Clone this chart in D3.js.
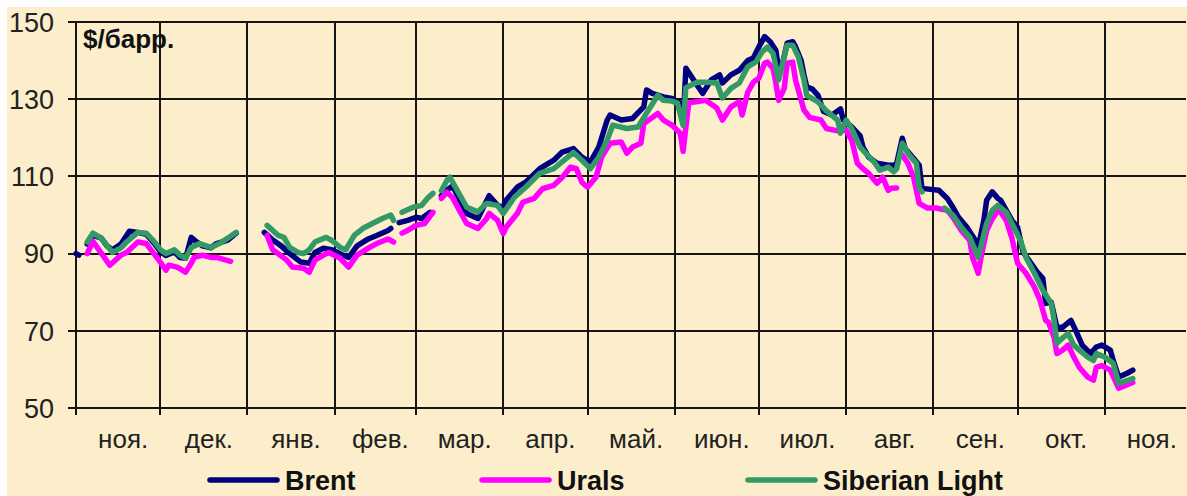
<!DOCTYPE html>
<html><head><meta charset="utf-8">
<script src="https://cdn.jsdelivr.net/npm/d3@7"></script>
<style>
html,body{margin:0;padding:0;background:#fff;}
svg{display:block;}
</style></head>
<body><svg id="c" width="1187" height="496"></svg>
<script>
const monthLabels = ["ноя.","дек.","янв.","фев.","мар.","апр.","май.","июн.","июл.","авг.","сен.","окт.","ноя."];
const yTicks = [50,70,90,110,130,150];
const unitLabel = "$/барр.";
const seriesNames = ["Brent","Urals","Siberian Light"];
const seriesColors = ["#000080","#FF00FF","#339966"];

const brent = [["2007-11-01",90],["2007-11-02",89.6],["2007-11-03",null],
["2007-11-05",92.5],["2007-11-07",94.8],["2007-11-10",94],["2007-11-12",92],["2007-11-14",91],["2007-11-17",92.5],["2007-11-20",95.8],["2007-11-23",95.5],["2007-11-26",95],["2007-11-29",92.5],["2007-12-01",90.5],["2007-12-03",89.5],["2007-12-06",90.5],["2007-12-08",89],["2007-12-10",88.8],["2007-12-12",94.2],["2007-12-14",93],["2007-12-16",92],["2007-12-19",91.5],["2007-12-21",92.6],["2007-12-25",93.5],["2007-12-28",95.3],["2008-01-01",null],
["2008-01-07",95.5],["2008-01-10",93.5],["2008-01-13",92],["2008-01-16",90],["2008-01-20",87.8],["2008-01-23",87.5],["2008-01-25",90.3],["2008-01-28",91.4],["2008-01-31",91],["2008-02-04",89.6],["2008-02-06",89],["2008-02-09",92],["2008-02-13",93.8],["2008-02-16",94.7],["2008-02-20",96],["2008-02-21",96.5],["2008-02-22",null],["2008-02-24",98],["2008-02-27",98.6],["2008-03-01",99.4],["2008-03-03",99.1],["2008-03-06",100.7],["2008-03-08",null],["2008-03-10",105],["2008-03-12",106.4],["2008-03-14",107.5],["2008-03-19",100.4],["2008-03-23",99.1],["2008-03-27",105],["2008-03-30",102.5],["2008-04-01",102],["2008-04-02",103.8],["2008-04-06",107.2],["2008-04-09",108.5],["2008-04-14",112],["2008-04-19",114.2],["2008-04-22",116.3],["2008-04-26",117.2],["2008-04-29",115],["2008-05-02",113.7],["2008-05-05",117.6],["2008-05-08",124.6],["2008-05-09",125.9],["2008-05-13",124.6],["2008-05-17",125],["2008-05-21",128],["2008-05-22",132.4],["2008-05-24",131.5],["2008-05-28",130.6],["2008-05-31",130.2],["2008-06-03",129],["2008-06-04",124],["2008-06-05",138],["2008-06-09",133.6],["2008-06-11",131.5],["2008-06-14",135],["2008-06-17",136.3],["2008-06-18",134.2],["2008-06-21",136.3],["2008-06-24",137.5],["2008-06-27",140],["2008-06-29",140.7],["2008-07-01",143.6],["2008-07-03",146.2],["2008-07-05",144.9],["2008-07-07",142.7],["2008-07-08",137.5],["2008-07-09",138],["2008-07-11",144.5],["2008-07-13",144.9],["2008-07-14",143.6],["2008-07-16",140],["2008-07-17",136.3],["2008-07-18",133.2],["2008-07-20",132.6],["2008-07-22",131],["2008-07-24",126.8],["2008-07-27",125.9],["2008-07-30",127.5],["2008-07-31",124.6],["2008-08-03",122.8],["2008-08-06",120.5],["2008-08-07",117.6],["2008-08-09",115],["2008-08-12",113.4],["2008-08-16",112.9],["2008-08-18",112.9],["2008-08-19",113.4],["2008-08-21",119.9],["2008-08-22",117.2],["2008-08-25",114.7],["2008-08-27",112.9],["2008-08-28",106.9],["2008-09-03",106.4],["2008-09-06",104.3],["2008-09-08",102],["2008-09-10",99.4],["2008-09-13",96.8],["2008-09-16",93.4],["2008-09-17",91.6],["2008-09-19",98.6],["2008-09-20",103.8],["2008-09-22",106],["2008-09-24",104.3],["2008-09-25",103.8],["2008-09-29",98.6],["2008-10-01",96.8],["2008-10-03",90.3],["2008-10-05",88.3],["2008-10-08",85.2],["2008-10-10",83.6],["2008-10-11",77.1],["2008-10-13",77.4],["2008-10-15",70.9],["2008-10-17",70.9],["2008-10-20",72.7],["2008-10-22",69.6],["2008-10-24",66.3],["2008-10-27",64.1],["2008-10-29",65.8],["2008-10-31",66.3],["2008-11-03",65],["2008-11-04",62.4],["2008-11-06",58],["2008-11-09",59],["2008-11-11",59.8]];

const urals = [["2007-11-05",90],["2007-11-07",93.2],["2007-11-13",87],["2007-11-17",89.6],["2007-11-19",90.3],["2007-11-23",93],["2007-11-26",92.6],["2007-11-30",88.8],["2007-12-03",85.7],["2007-12-04",87],["2007-12-07",86.5],["2007-12-10",85.2],["2007-12-12",87.5],["2007-12-13",89],["2007-12-16",89.6],["2007-12-19",89],["2007-12-21",89],["2007-12-26",88],["2008-01-01",null],["2008-01-08",94.7],["2008-01-10",91],["2008-01-15",88.3],["2008-01-17",86.5],["2008-01-21",86.2],["2008-01-23",85.2],["2008-01-25",88.3],["2008-01-28",89.6],["2008-01-30",90.3],["2008-02-03",88.8],["2008-02-06",86.5],["2008-02-09",89.6],["2008-02-13",91.4],["2008-02-16",92.6],["2008-02-20",93.8],["2008-02-22",93],["2008-02-23",null],["2008-02-25",95.3],["2008-02-27",96],["2008-03-01",97.3],["2008-03-04",97.8],["2008-03-07",100.7],["2008-03-08",null],["2008-03-10",104.3],["2008-03-12",105.9],["2008-03-14",104.5],["2008-03-17",100.4],["2008-03-19",97.8],["2008-03-23",96.5],["2008-03-26",99],["2008-03-27",100.4],["2008-03-30",98.6],["2008-04-01",95.2],["2008-04-02",96.8],["2008-04-06",100.4],["2008-04-08",103.3],["2008-04-12",104.3],["2008-04-15",106.8],["2008-04-19",107.7],["2008-04-22",109.8],["2008-04-25",112.4],["2008-04-27",112],["2008-04-29",108.5],["2008-05-01",107.2],["2008-05-04",109.8],["2008-05-06",115],["2008-05-09",118.6],["2008-05-13",118.9],["2008-05-15",116],["2008-05-17",117.6],["2008-05-20",118.6],["2008-05-21",123.7],["2008-05-26",126.3],["2008-05-28",124.6],["2008-05-31",123.3],["2008-06-03",121.2],["2008-06-04",116.5],["2008-06-06",129],["2008-06-08",129.3],["2008-06-12",129.7],["2008-06-16",127.7],["2008-06-18",124.6],["2008-06-21",128],["2008-06-24",129.3],["2008-06-25",125.9],["2008-06-27",131.8],["2008-06-29",134.4],["2008-07-01",135.5],["2008-07-03",139.3],["2008-07-04",139.6],["2008-07-06",138],["2008-07-07",134.2],["2008-07-08",129.7],["2008-07-10",132.8],["2008-07-11",139.3],["2008-07-13",139.6],["2008-07-14",135],["2008-07-17",127.2],["2008-07-19",125.3],["2008-07-23",124.6],["2008-07-25",122.4],["2008-07-29",121.8],["2008-08-01",122],["2008-08-03",119.4],["2008-08-05",113.4],["2008-08-07",112],["2008-08-09",110.8],["2008-08-12",108.2],["2008-08-14",109.8],["2008-08-16",106.4],["2008-08-17",106.9],["2008-08-19",107],["2008-08-20",null],["2008-08-21",115.5],["2008-08-23",113.4],["2008-08-25",109.8],["2008-08-26",106.4],["2008-08-27",103],["2008-08-30",101.8],["2008-09-02",101.8],["2008-09-06",101.2],["2008-09-08",99.4],["2008-09-11",96],["2008-09-14",93.4],["2008-09-15",89],["2008-09-17",84.9],["2008-09-18",89],["2008-09-20",96],["2008-09-22",99],["2008-09-24",101.2],["2008-09-25",100.7],["2008-09-27",98.6],["2008-09-29",94],["2008-10-01",87.5],["2008-10-04",84.9],["2008-10-07",81.3],["2008-10-09",77.9],["2008-10-11",72.7],["2008-10-12",72.2],["2008-10-14",68.3],["2008-10-15",64.1],["2008-10-17",65],["2008-10-19",66.3],["2008-10-21",63.2],["2008-10-23",60.5],["2008-10-26",58],["2008-10-28",57.2],["2008-10-29",60.5],["2008-10-31",61],["2008-11-03",59.8],["2008-11-06",55.1],["2008-11-11",56.6]];

const siberian = [["2007-11-05",93],["2007-11-07",95.3],["2007-11-10",94],["2007-11-14",90.3],["2007-11-17",91.5],["2007-11-19",93],["2007-11-23",95.5],["2007-11-26",95.3],["2007-11-29",93],["2007-12-01",91],["2007-12-03",90],["2007-12-06",91],["2007-12-08",89.6],["2007-12-10",88.8],["2007-12-12",91.6],["2007-12-15",92.6],["2007-12-19",91.6],["2007-12-22",92.6],["2007-12-25",94],["2007-12-28",95.5],["2008-01-01",null],["2008-01-08",97.3],["2008-01-12",94.7],["2008-01-14",94.2],["2008-01-16",91.6],["2008-01-19",90.3],["2008-01-21",90],["2008-01-23",91],["2008-01-25",93],["2008-01-29",94.2],["2008-01-31",93.4],["2008-02-03",91.6],["2008-02-05",91],["2008-02-08",94.7],["2008-02-11",96.5],["2008-02-15",98],["2008-02-18",99.1],["2008-02-21",100],["2008-02-22",98.6],["2008-02-23",null],["2008-02-25",100.7],["2008-02-29",102],["2008-03-03",102.5],["2008-03-05",104.3],["2008-03-07",105.6],["2008-03-08",null],["2008-03-10",106.3],["2008-03-12",109],["2008-03-13",109.8],["2008-03-19",102],["2008-03-23",100.8],["2008-03-26",103],["2008-03-30",102.5],["2008-04-01",100.4],["2008-04-05",104.6],["2008-04-09",107.2],["2008-04-14",110.8],["2008-04-19",112],["2008-04-24",115],["2008-04-26",116.2],["2008-04-29",114.2],["2008-05-02",112],["2008-05-05",115],["2008-05-08",119.4],["2008-05-10",123.3],["2008-05-15",122.4],["2008-05-19",122.8],["2008-05-22",126.4],["2008-05-26",131],["2008-05-28",129.7],["2008-05-31",129.5],["2008-06-02",129],["2008-06-04",123.2],["2008-06-05",133],["2008-06-09",134.4],["2008-06-12",134.4],["2008-06-16",134.2],["2008-06-18",130.3],["2008-06-21",132.8],["2008-06-24",134.2],["2008-06-27",138.4],["2008-06-30",139.7],["2008-07-02",142.2],["2008-07-04",143.5],["2008-07-06",141.9],["2008-07-08",135],["2008-07-11",144],["2008-07-13",144],["2008-07-15",141],["2008-07-17",135],["2008-07-18",131],["2008-07-22",129.3],["2008-07-25",127],["2008-07-29",124.6],["2008-07-30",121.2],["2008-08-01",124.6],["2008-08-03",122.4],["2008-08-06",117.6],["2008-08-08",116],["2008-08-11",113.7],["2008-08-13",111.6],["2008-08-16",112.4],["2008-08-18",111.2],["2008-08-19",112],["2008-08-21",118.6],["2008-08-23",116],["2008-08-25",114.2],["2008-08-26",113.4],["2008-08-27",106.9],["2008-08-28",106],["2008-09-01",null],["2008-09-05",101.8],["2008-09-08",100],["2008-09-11",96.8],["2008-09-14",94.2],["2008-09-17",89],["2008-09-18",92],["2008-09-20",97.8],["2008-09-22",101.2],["2008-09-24",102.5],["2008-09-27",100.7],["2008-09-29",97.8],["2008-10-02",93.4],["2008-10-04",89],["2008-10-07",84.9],["2008-10-10",80.5],["2008-10-13",77.1],["2008-10-14",72.7],["2008-10-15",66.8],["2008-10-17",68.1],["2008-10-19",69.3],["2008-10-21",66.3],["2008-10-23",65],["2008-10-26",63.2],["2008-10-28",62.3],["2008-10-29",64.1],["2008-11-01",63.2],["2008-11-04",61.6],["2008-11-06",56.4],["2008-11-11",57.6]];

const parse = d3.timeParse("%Y-%m-%d");
const svg = d3.select("#c");
const W = 1187, H = 496;

svg.append("rect").attr("x",7).attr("y",7).attr("width",W-7).attr("height",H-7).attr("fill","#FCEECB");

const x = d3.scaleTime().domain([parse("2007-11-01"), parse("2008-12-01")]).range([76, 1189]);
const y = d3.scaleLinear().domain([50,150]).range([408, 22]);
const xRight = 1186;
const font = "Liberation Sans, Arial, sans-serif";

const gridColor = "#151515";
svg.append("g").selectAll("line").data(yTicks).join("line")
  .attr("x1",68).attr("x2",xRight).attr("y1",d=>Math.round(y(d))).attr("y2",d=>Math.round(y(d)))
  .attr("stroke",gridColor).attr("stroke-width",2);
const months = d3.timeMonth.range(parse("2007-11-01"), parse("2008-12-01"));
svg.append("g").selectAll("line").data(months.filter(m=>x(m)<xRight)).join("line")
  .attr("x1",d=>Math.round(x(d))).attr("x2",d=>Math.round(x(d))).attr("y1",y(150)-1).attr("y2",415)
  .attr("stroke",gridColor).attr("stroke-width",2);

svg.append("g").selectAll("text").data(yTicks).join("text")
  .attr("x",54).attr("y",d=>y(d)).attr("dy","0.36em").attr("text-anchor","end")
  .attr("font-family",font).attr("font-size",27).attr("fill","#222")
  .text(d=>d);

svg.append("g").selectAll("text").data(months).join("text")
  .attr("x",d=>(x(d)+x(d3.timeMonth.offset(d,1)))/2 + 5).attr("y",448)
  .attr("text-anchor","middle")
  .attr("font-family",font).attr("font-size",26).attr("fill","#222")
  .text((d,i)=>monthLabels[i]);

svg.append("text").attr("x",83).attr("y",48).attr("font-family",font)
  .attr("font-weight","bold").attr("font-size",26).attr("fill","#111").text(unitLabel);

const line = d3.line().defined(d=>d[1]!=null).x(d=>x(parse(d[0]))).y(d=>y(d[1]));
[brent, urals, siberian].forEach((s,i)=>{
  svg.append("path").datum(s).attr("d",line).attr("fill","none")
    .attr("stroke",seriesColors[i]).attr("stroke-width",5.5).attr("stroke-linejoin","round").attr("stroke-linecap","round");
});

const legX = [210, 482, 748];
const leg = svg.append("g");
seriesNames.forEach((n,i)=>{
  leg.append("line").attr("x1",legX[i]).attr("x2",legX[i]+67).attr("y1",480).attr("y2",480)
    .attr("stroke",seriesColors[i]).attr("stroke-width",5.5).attr("stroke-linecap","round");
  leg.append("text").attr("x",legX[i]+75).attr("y",490).attr("font-family",font)
    .attr("font-weight","bold").attr("font-size",27).attr("fill","#111").text(n);
});
</script></body></html>
